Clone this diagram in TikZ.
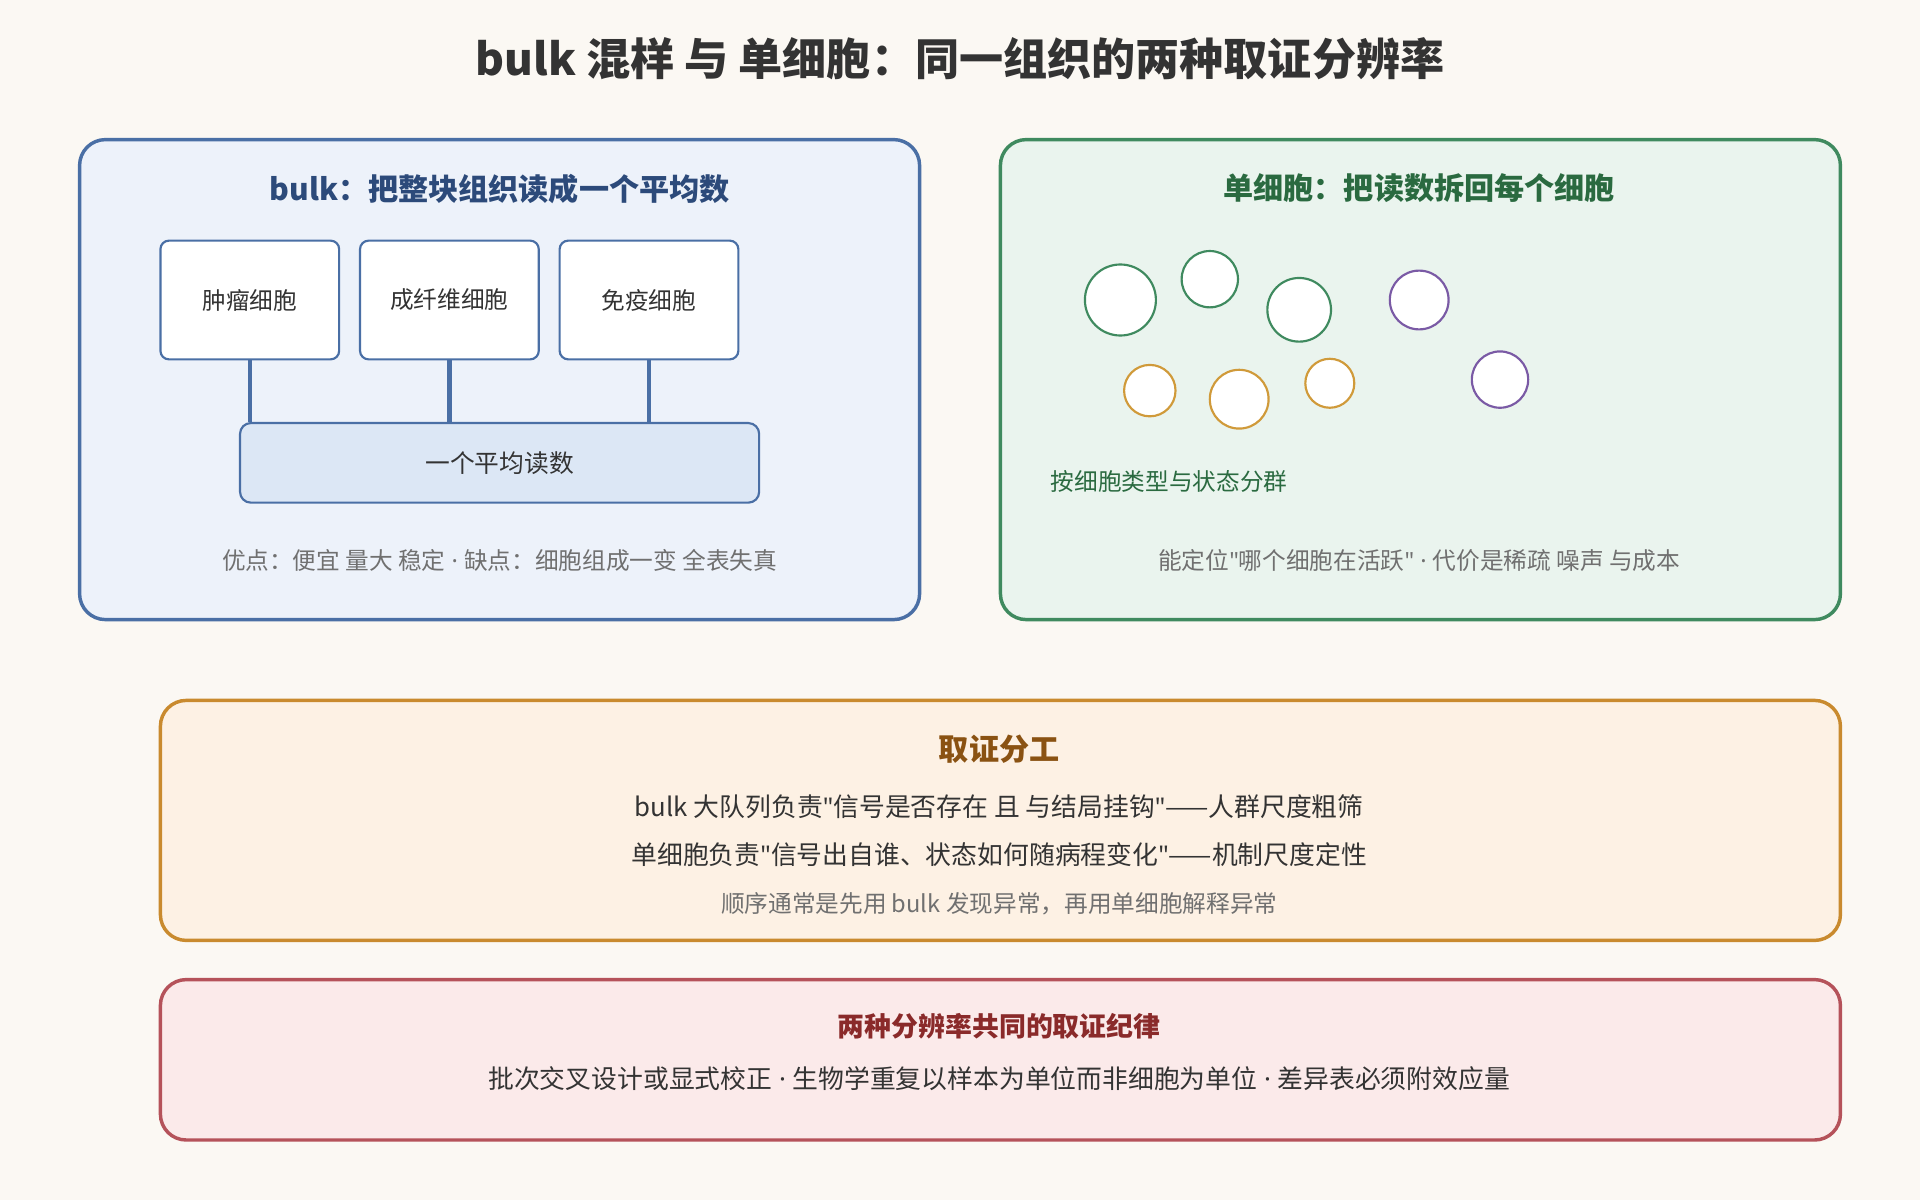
\documentclass[tikz,border=0pt]{standalone}
\usepackage{fontspec}
\setmainfont{Noto Sans CJK SC}
\newfontfamily\lat{Noto Sans}
\newcommand{\q}{{\lat\symbol{34}}}
\newcommand{\md}{{\lat\ ·\ }}
\begin{document}
\begin{tikzpicture}[x=0.02cm,y=-0.02cm,
  big/.style={rounded corners=12pt,line width=1.6pt},
  cell/.style={draw=#1,line width=1pt,fill=white},
  sbox/.style={draw=blueb,fill=white,rounded corners=4pt,line width=1pt,minimum width=2.92cm,minimum height=1.94cm,font=\fontsize{11}{13}\selectfont,text=txt},
  gray/.style={text=graytxt,font=\fontsize{11}{13}\selectfont},
  body/.style={text=txt,font=\fontsize{12}{15}\selectfont}]
\definecolor{bg}{HTML}{FBF8F3}
\definecolor{blueb}{HTML}{4A6FA5}\definecolor{bluef}{HTML}{EDF2FA}\definecolor{bluet}{HTML}{2C4A7A}\definecolor{avgf}{HTML}{DCE7F5}
\definecolor{greenb}{HTML}{3F8A5F}\definecolor{greenf}{HTML}{EAF4EE}\definecolor{greent}{HTML}{2A6A40}
\definecolor{orb}{HTML}{C98A2E}\definecolor{orf}{HTML}{FDF1E4}\definecolor{ort}{HTML}{8A5212}
\definecolor{redb}{HTML}{B5525A}\definecolor{redf}{HTML}{FBEAEA}\definecolor{redt}{HTML}{8A2A2A}
\definecolor{txt}{HTML}{333333}\definecolor{graytxt}{HTML}{707070}
\definecolor{cg}{HTML}{3F8A5F}\definecolor{cp}{HTML}{7A5AA5}\definecolor{co}{HTML}{D09A3A}
\fill[bg] (0,0) rectangle (1568,980);
\node[font=\bfseries\fontsize{20.5}{24}\selectfont,text=txt] (title) at (784,48) {bulk 混样 与 单细胞：同一组织的两种取证分辨率};
% blue
\draw[big,draw=blueb,fill=bluef] (65,114) rectangle (751,506);
\node[font=\bfseries\fontsize{14}{17}\selectfont,text=bluet] (bt) at (408,154) {bulk：把整块组织读成一个平均数};
\node[sbox] (t1) at (204,245) {肿瘤细胞};
\node[sbox] (t2) at (367,245) {成纤维细胞};
\node[sbox] (t3) at (530,245) {免疫细胞};
\node[draw=blueb,fill=avgf,rounded corners=5pt,line width=1pt,minimum width=8.48cm,minimum height=1.3cm,font=\fontsize{11.5}{14}\selectfont,text=txt] (avg) at (408,378) {一个平均读数};
\foreach \i in {t1,t2,t3} \draw[blueb,line width=2pt] (\i.south) -- (\i.south |- avg.north);
\node[gray] (bn) at (408,458) {优点：便宜 量大 稳定\md 缺点：细胞组成一变 全表失真};
% green
\draw[big,draw=greenb,fill=greenf] (817,114) rectangle (1503,506);
\node[font=\bfseries\fontsize{14}{17}\selectfont,text=greent] (gt) at (1159,154) {单细胞：把读数拆回每个细胞};
\draw[cell=cg] (915,245) circle (29);
\draw[cell=cg] (988,228) circle (23);
\draw[cell=cg] (1061,253) circle (26);
\draw[cell=cp] (1159,245) circle (24);
\draw[cell=cp] (1225,310) circle (23);
\draw[cell=co] (939,319) circle (21);
\draw[cell=co] (1012,326) circle (24);
\draw[cell=co] (1086,313) circle (20);
\node[anchor=west,text=greent,font=\fontsize{11}{13}\selectfont] (cl) at (852,393) {按细胞类型与状态分群};
\node[gray] (gn) at (1159,458) {能定位\q 哪个细胞在活跃\q\md 代价是稀疏 噪声 与成本};
% orange
\draw[big,draw=orb,fill=orf] (131,572) rectangle (1503,768);
\node[font=\bfseries\fontsize{14}{17}\selectfont,text=ort] (ot) at (816,612) {取证分工};
\node[body] (o1) at (816,659) {bulk 大队列负责\q 信号是否存在 且 与结局挂钩\q——人群尺度粗筛};
\node[body] (o2) at (816,698) {单细胞负责\q 信号出自谁、状态如何随病程变化\q——机制尺度定性};
\node[gray] (o3) at (816,738) {顺序通常是先用 bulk 发现异常，再用单细胞解释异常};
% red
\draw[big,draw=redb,fill=redf] (131,800) rectangle (1503,931);
\node[font=\bfseries\fontsize{12.5}{15}\selectfont,text=redt] (rt) at (816,838) {两种分辨率共同的取证纪律};
\node[body] (r1) at (816,881) {批次交叉设计或显式校正\md 生物学重复以样本为单位而非细胞为单位\md 差异表必须附效应量};
\end{tikzpicture}
\end{document}
